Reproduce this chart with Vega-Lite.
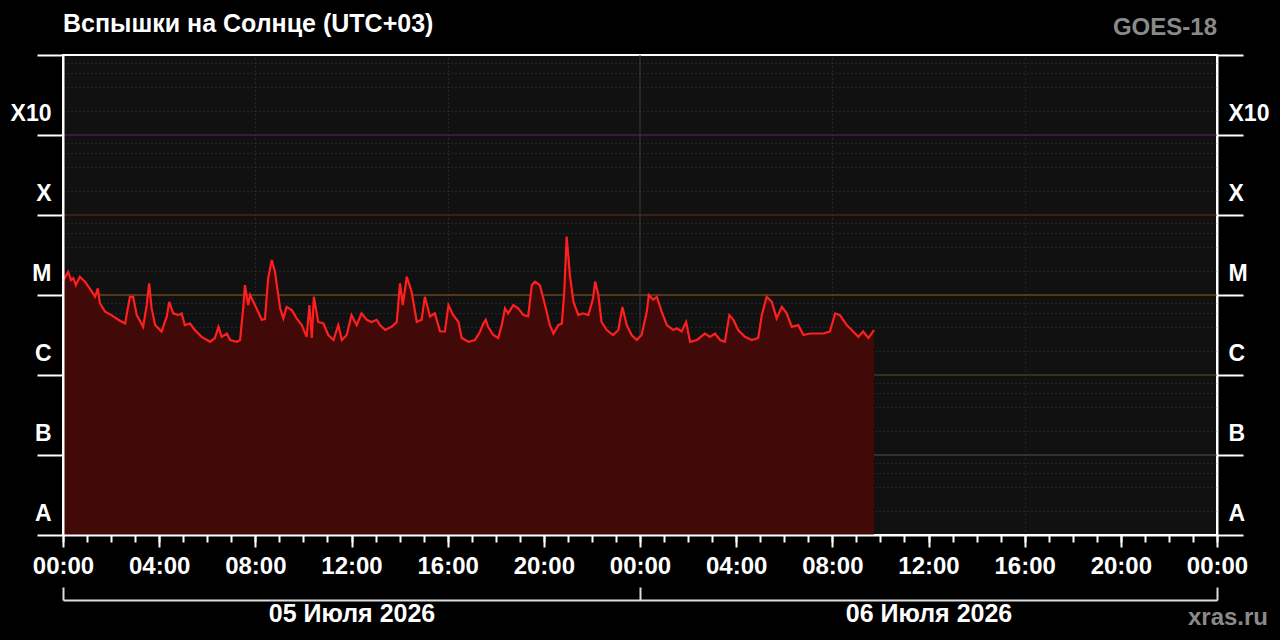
{
  "$schema": "https://vega.github.io/schema/vega-lite/v6.json",
  "autosize": "none",
  "width": 1154,
  "height": 480,
  "padding": {"left": 63, "top": 55, "right": 63, "bottom": 105},
  "background": "#000000",
  "title": {
    "text": "Вспышки на Солнце (UTC+03)",
    "anchor": "start",
    "frame": "group",
    "font": "Liberation Sans",
    "fontSize": 25,
    "fontWeight": "bold",
    "color": "#ffffff",
    "baseline": "alphabetic",
    "offset": -41
  },
  "config": {
    "view": {"fill": "#111111", "stroke": "#ffffff", "strokeWidth": 2},
    "font": "Liberation Sans"
  },
  "datasets": {
    "levels": [
      {"v": 1e-7, "cls": "B"},
      {"v": 1e-6, "cls": "C"},
      {"v": 1e-5, "cls": "M"},
      {"v": 1e-4, "cls": "X"},
      {"v": 1e-3, "cls": "X10"}
    ],
    "flux": [
      {"t": "2026-07-05T00:00", "v": 1.5e-5},
      {"t": "2026-07-05T00:13", "v": 1.95e-5},
      {"t": "2026-07-05T00:20", "v": 1.54e-5},
      {"t": "2026-07-05T00:26", "v": 1.62e-5},
      {"t": "2026-07-05T00:32", "v": 1.33e-5},
      {"t": "2026-07-05T00:42", "v": 1.69e-5},
      {"t": "2026-07-05T00:55", "v": 1.47e-5},
      {"t": "2026-07-05T01:12", "v": 1.1e-5},
      {"t": "2026-07-05T01:20", "v": 9.5e-6},
      {"t": "2026-07-05T01:27", "v": 1.21e-5},
      {"t": "2026-07-05T01:32", "v": 7.9e-6},
      {"t": "2026-07-05T01:45", "v": 6.2e-6},
      {"t": "2026-07-05T02:01", "v": 5.6e-6},
      {"t": "2026-07-05T02:18", "v": 4.9e-6},
      {"t": "2026-07-05T02:35", "v": 4.4e-6},
      {"t": "2026-07-05T02:47", "v": 9.5e-6},
      {"t": "2026-07-05T02:55", "v": 9.5e-6},
      {"t": "2026-07-05T03:04", "v": 5.6e-6},
      {"t": "2026-07-05T03:20", "v": 4.0e-6},
      {"t": "2026-07-05T03:29", "v": 7.5e-6},
      {"t": "2026-07-05T03:35", "v": 1.4e-5},
      {"t": "2026-07-05T03:41", "v": 6.9e-6},
      {"t": "2026-07-05T03:50", "v": 4.2e-6},
      {"t": "2026-07-05T04:06", "v": 3.5e-6},
      {"t": "2026-07-05T04:19", "v": 5.4e-6},
      {"t": "2026-07-05T04:25", "v": 8.2e-6},
      {"t": "2026-07-05T04:35", "v": 5.9e-6},
      {"t": "2026-07-05T04:48", "v": 5.6e-6},
      {"t": "2026-07-05T04:56", "v": 5.9e-6},
      {"t": "2026-07-05T05:04", "v": 4.2e-6},
      {"t": "2026-07-05T05:17", "v": 4.4e-6},
      {"t": "2026-07-05T05:29", "v": 3.65e-6},
      {"t": "2026-07-05T05:46", "v": 3.0e-6},
      {"t": "2026-07-05T06:07", "v": 2.6e-6},
      {"t": "2026-07-05T06:19", "v": 2.9e-6},
      {"t": "2026-07-05T06:28", "v": 4.0e-6},
      {"t": "2026-07-05T06:36", "v": 3.0e-6},
      {"t": "2026-07-05T06:49", "v": 3.3e-6},
      {"t": "2026-07-05T06:57", "v": 2.74e-6},
      {"t": "2026-07-05T07:14", "v": 2.6e-6},
      {"t": "2026-07-05T07:22", "v": 2.74e-6},
      {"t": "2026-07-05T07:30", "v": 7.1e-6},
      {"t": "2026-07-05T07:34", "v": 1.33e-5},
      {"t": "2026-07-05T07:42", "v": 7.5e-6},
      {"t": "2026-07-05T07:47", "v": 1.0e-5},
      {"t": "2026-07-05T07:59", "v": 7.5e-6},
      {"t": "2026-07-05T08:16", "v": 4.9e-6},
      {"t": "2026-07-05T08:24", "v": 5.0e-6},
      {"t": "2026-07-05T08:32", "v": 1.62e-5},
      {"t": "2026-07-05T08:41", "v": 2.74e-5},
      {"t": "2026-07-05T08:49", "v": 1.95e-5},
      {"t": "2026-07-05T09:02", "v": 6.8e-6},
      {"t": "2026-07-05T09:10", "v": 5.1e-6},
      {"t": "2026-07-05T09:18", "v": 7.1e-6},
      {"t": "2026-07-05T09:31", "v": 6.5e-6},
      {"t": "2026-07-05T09:43", "v": 5.1e-6},
      {"t": "2026-07-05T09:56", "v": 4.2e-6},
      {"t": "2026-07-05T10:08", "v": 3.0e-6},
      {"t": "2026-07-05T10:15", "v": 7.5e-6},
      {"t": "2026-07-05T10:21", "v": 2.9e-6},
      {"t": "2026-07-05T10:26", "v": 9.5e-6},
      {"t": "2026-07-05T10:37", "v": 4.6e-6},
      {"t": "2026-07-05T10:50", "v": 4.4e-6},
      {"t": "2026-07-05T11:02", "v": 3.16e-6},
      {"t": "2026-07-05T11:15", "v": 2.74e-6},
      {"t": "2026-07-05T11:27", "v": 4.2e-6},
      {"t": "2026-07-05T11:36", "v": 2.74e-6},
      {"t": "2026-07-05T11:48", "v": 3.16e-6},
      {"t": "2026-07-05T12:00", "v": 5.6e-6},
      {"t": "2026-07-05T12:13", "v": 4.2e-6},
      {"t": "2026-07-05T12:25", "v": 5.9e-6},
      {"t": "2026-07-05T12:38", "v": 4.9e-6},
      {"t": "2026-07-05T12:50", "v": 4.6e-6},
      {"t": "2026-07-05T13:03", "v": 4.9e-6},
      {"t": "2026-07-05T13:11", "v": 4.2e-6},
      {"t": "2026-07-05T13:24", "v": 3.65e-6},
      {"t": "2026-07-05T13:40", "v": 4.0e-6},
      {"t": "2026-07-05T13:53", "v": 4.6e-6},
      {"t": "2026-07-05T14:01", "v": 1.4e-5},
      {"t": "2026-07-05T14:08", "v": 7.5e-6},
      {"t": "2026-07-05T14:18", "v": 1.69e-5},
      {"t": "2026-07-05T14:30", "v": 1.1e-5},
      {"t": "2026-07-05T14:43", "v": 4.6e-6},
      {"t": "2026-07-05T14:55", "v": 4.9e-6},
      {"t": "2026-07-05T15:03", "v": 9.5e-6},
      {"t": "2026-07-05T15:16", "v": 5.4e-6},
      {"t": "2026-07-05T15:28", "v": 5.9e-6},
      {"t": "2026-07-05T15:41", "v": 3.5e-6},
      {"t": "2026-07-05T15:53", "v": 3.5e-6},
      {"t": "2026-07-05T16:02", "v": 7.5e-6},
      {"t": "2026-07-05T16:14", "v": 5.6e-6},
      {"t": "2026-07-05T16:27", "v": 4.6e-6},
      {"t": "2026-07-05T16:35", "v": 2.9e-6},
      {"t": "2026-07-05T16:52", "v": 2.6e-6},
      {"t": "2026-07-05T17:08", "v": 2.74e-6},
      {"t": "2026-07-05T17:21", "v": 3.5e-6},
      {"t": "2026-07-05T17:29", "v": 4.4e-6},
      {"t": "2026-07-05T17:35", "v": 4.9e-6},
      {"t": "2026-07-05T17:41", "v": 4.0e-6},
      {"t": "2026-07-05T17:54", "v": 3.16e-6},
      {"t": "2026-07-05T18:06", "v": 2.9e-6},
      {"t": "2026-07-05T18:15", "v": 4.2e-6},
      {"t": "2026-07-05T18:23", "v": 6.8e-6},
      {"t": "2026-07-05T18:31", "v": 5.9e-6},
      {"t": "2026-07-05T18:44", "v": 7.5e-6},
      {"t": "2026-07-05T18:56", "v": 6.8e-6},
      {"t": "2026-07-05T19:09", "v": 5.6e-6},
      {"t": "2026-07-05T19:21", "v": 5.4e-6},
      {"t": "2026-07-05T19:30", "v": 1.33e-5},
      {"t": "2026-07-05T19:38", "v": 1.47e-5},
      {"t": "2026-07-05T19:50", "v": 1.33e-5},
      {"t": "2026-07-05T20:03", "v": 7.5e-6},
      {"t": "2026-07-05T20:15", "v": 4.2e-6},
      {"t": "2026-07-05T20:24", "v": 3.3e-6},
      {"t": "2026-07-05T20:36", "v": 4.2e-6},
      {"t": "2026-07-05T20:45", "v": 4.4e-6},
      {"t": "2026-07-05T20:51", "v": 1.1e-5},
      {"t": "2026-07-05T20:57", "v": 5.36e-5},
      {"t": "2026-07-05T21:05", "v": 1.78e-5},
      {"t": "2026-07-05T21:14", "v": 8.2e-6},
      {"t": "2026-07-05T21:26", "v": 5.6e-6},
      {"t": "2026-07-05T21:38", "v": 5.9e-6},
      {"t": "2026-07-05T21:51", "v": 5.6e-6},
      {"t": "2026-07-05T22:03", "v": 9.1e-6},
      {"t": "2026-07-05T22:08", "v": 1.47e-5},
      {"t": "2026-07-05T22:16", "v": 1.0e-5},
      {"t": "2026-07-05T22:24", "v": 4.6e-6},
      {"t": "2026-07-05T22:37", "v": 3.65e-6},
      {"t": "2026-07-05T22:53", "v": 3.16e-6},
      {"t": "2026-07-05T23:06", "v": 3.65e-6},
      {"t": "2026-07-05T23:16", "v": 7.1e-6},
      {"t": "2026-07-05T23:27", "v": 4.2e-6},
      {"t": "2026-07-05T23:39", "v": 3.16e-6},
      {"t": "2026-07-05T23:52", "v": 2.74e-6},
      {"t": "2026-07-06T00:04", "v": 3.16e-6},
      {"t": "2026-07-06T00:17", "v": 6.2e-6},
      {"t": "2026-07-06T00:22", "v": 1.0e-5},
      {"t": "2026-07-06T00:33", "v": 8.7e-6},
      {"t": "2026-07-06T00:42", "v": 9.5e-6},
      {"t": "2026-07-06T00:54", "v": 6.2e-6},
      {"t": "2026-07-06T01:07", "v": 4.2e-6},
      {"t": "2026-07-06T01:23", "v": 3.65e-6},
      {"t": "2026-07-06T01:32", "v": 3.84e-6},
      {"t": "2026-07-06T01:44", "v": 3.5e-6},
      {"t": "2026-07-06T01:55", "v": 4.6e-6},
      {"t": "2026-07-06T02:05", "v": 2.6e-6},
      {"t": "2026-07-06T02:22", "v": 2.74e-6},
      {"t": "2026-07-06T02:42", "v": 3.3e-6},
      {"t": "2026-07-06T02:55", "v": 3.0e-6},
      {"t": "2026-07-06T03:07", "v": 3.3e-6},
      {"t": "2026-07-06T03:20", "v": 2.74e-6},
      {"t": "2026-07-06T03:32", "v": 2.6e-6},
      {"t": "2026-07-06T03:43", "v": 5.6e-6},
      {"t": "2026-07-06T03:53", "v": 4.9e-6},
      {"t": "2026-07-06T04:05", "v": 3.65e-6},
      {"t": "2026-07-06T04:22", "v": 3.0e-6},
      {"t": "2026-07-06T04:39", "v": 2.74e-6},
      {"t": "2026-07-06T04:55", "v": 2.9e-6},
      {"t": "2026-07-06T05:04", "v": 5.6e-6},
      {"t": "2026-07-06T05:16", "v": 9.5e-6},
      {"t": "2026-07-06T05:29", "v": 8.2e-6},
      {"t": "2026-07-06T05:41", "v": 5.1e-6},
      {"t": "2026-07-06T05:54", "v": 7.1e-6},
      {"t": "2026-07-06T06:06", "v": 5.9e-6},
      {"t": "2026-07-06T06:19", "v": 4.0e-6},
      {"t": "2026-07-06T06:35", "v": 4.2e-6},
      {"t": "2026-07-06T06:48", "v": 3.16e-6},
      {"t": "2026-07-06T07:04", "v": 3.3e-6},
      {"t": "2026-07-06T07:21", "v": 3.3e-6},
      {"t": "2026-07-06T07:38", "v": 3.3e-6},
      {"t": "2026-07-06T07:54", "v": 3.5e-6},
      {"t": "2026-07-06T08:07", "v": 5.9e-6},
      {"t": "2026-07-06T08:19", "v": 5.6e-6},
      {"t": "2026-07-06T08:36", "v": 4.2e-6},
      {"t": "2026-07-06T08:52", "v": 3.5e-6},
      {"t": "2026-07-06T09:05", "v": 3.0e-6},
      {"t": "2026-07-06T09:17", "v": 3.5e-6},
      {"t": "2026-07-06T09:30", "v": 2.9e-6},
      {"t": "2026-07-06T09:44", "v": 3.65e-6}
    ]
  },
  "layer": [
    {
      "data": {"name": "levels"},
      "mark": {"type": "rule", "strokeWidth": 1.5},
      "encoding": {
        "y": {
          "field": "v",
          "type": "quantitative",
          "scale": {"type": "log", "domain": [1e-8, 1e-2]},
          "axis": {
            "orient": "left",
            "values": [2e-8, 4e-8, 6e-8, 8e-8, 2e-7, 4e-7, 6e-7, 8e-7, 2e-6, 4e-6, 6e-6, 8e-6, 2e-5, 4e-5, 6e-5, 8e-5, 2e-4, 4e-4, 6e-4, 8e-4, 2e-3, 4e-3, 6e-3, 8e-3],
            "grid": true,
            "gridDash": [1, 3],
            "gridColor": "#3a3a3a",
            "gridWidth": 1,
            "ticks": false,
            "labels": false,
            "domain": false,
            "title": null,
            "zindex": 0
          }
        },
        "color": {
          "field": "cls",
          "type": "nominal",
          "scale": {"domain": ["B", "C", "M", "X", "X10"], "range": ["#3c3c3c", "#3e3e18", "#6a4418", "#541e1e", "#4e1a4e"]},
          "legend": null
        }
      }
    },
    {
      "data": {"values": [{}]},
      "mark": {"type": "rule", "color": "#3c3c3c", "strokeWidth": 1},
      "encoding": {
        "x": {
          "datum": {"year": 2026, "month": 7, "date": 6},
          "type": "temporal",
          "scale": {"domain": [{"year": 2026, "month": 7, "date": 5}, {"year": 2026, "month": 7, "date": 7}], "nice": false},
          "axis": {
            "orient": "bottom",
            "values": [
              {"year": 2026, "month": 7, "date": 5, "hours": 8},
              {"year": 2026, "month": 7, "date": 5, "hours": 16},
              {"year": 2026, "month": 7, "date": 6, "hours": 8},
              {"year": 2026, "month": 7, "date": 6, "hours": 16}
            ],
            "grid": true,
            "gridDash": [1, 3],
            "gridColor": "#3a3a3a",
            "gridWidth": 1,
            "ticks": false,
            "labels": false,
            "domain": false,
            "title": null,
            "zindex": 0
          }
        }
      }
    },
    {
      "data": {"name": "flux"},
      "mark": {"type": "area", "color": "#420909", "opacity": 1},
      "encoding": {
        "x": {
          "field": "t",
          "type": "temporal",
          "scale": {"domain": [{"year": 2026, "month": 7, "date": 5}, {"year": 2026, "month": 7, "date": 7}], "nice": false},
          "axis": {
            "orient": "bottom",
            "values": [
              {"year": 2026, "month": 7, "date": 5, "hours": 0},
              {"year": 2026, "month": 7, "date": 5, "hours": 4},
              {"year": 2026, "month": 7, "date": 5, "hours": 8},
              {"year": 2026, "month": 7, "date": 5, "hours": 12},
              {"year": 2026, "month": 7, "date": 5, "hours": 16},
              {"year": 2026, "month": 7, "date": 5, "hours": 20},
              {"year": 2026, "month": 7, "date": 6, "hours": 0},
              {"year": 2026, "month": 7, "date": 6, "hours": 4},
              {"year": 2026, "month": 7, "date": 6, "hours": 8},
              {"year": 2026, "month": 7, "date": 6, "hours": 12},
              {"year": 2026, "month": 7, "date": 6, "hours": 16},
              {"year": 2026, "month": 7, "date": 6, "hours": 20},
              {"year": 2026, "month": 7, "date": 7, "hours": 0}
            ],
            "format": "%H:%M",
            "labelFont": "Liberation Sans",
            "labelFontSize": 24,
            "labelFontWeight": "bold",
            "labelColor": "#ffffff",
            "labelPadding": 26,
            "labelBaseline": "alphabetic",
            "labelFlush": false,
            "labelOverlap": false,
            "tickSize": 12,
            "tickColor": "#ffffff",
            "tickWidth": 2,
            "domain": true,
            "domainColor": "#ffffff",
            "domainWidth": 2,
            "grid": false,
            "title": null,
            "zindex": 1
          }
        },
        "y": {
          "field": "v",
          "type": "quantitative",
          "scale": {"type": "log", "domain": [1e-8, 1e-2]},
          "axis": {
            "orient": "left",
            "values": [1e-8, 1e-7, 1e-6, 1e-5, 1e-4, 1e-3, 1e-2],
            "labelExpr": "datum.value < 5e-8 ? 'A' : datum.value < 5e-7 ? 'B' : datum.value < 5e-6 ? 'C' : datum.value < 5e-5 ? 'M' : datum.value < 5e-4 ? 'X' : datum.value < 5e-3 ? 'X10' : ''",
            "labelFont": "Liberation Sans",
            "labelFontSize": 23,
            "labelFontWeight": "bold",
            "labelColor": "#ffffff",
            "labelAlign": "right",
            "labelBaseline": "alphabetic",
            "labelPadding": -14,
            "labelOffset": -15,
            "labelFlush": false,
            "labelOverlap": false,
            "tickSize": 26,
            "tickColor": "#ffffff",
            "tickWidth": 2,
            "domain": true,
            "domainColor": "#ffffff",
            "domainWidth": 2,
            "grid": false,
            "title": null,
            "zindex": 1
          }
        },
        "y2": {"datum": 1e-8}
      }
    },
    {
      "data": {"name": "flux"},
      "mark": {"type": "line", "color": "#ff1f1f", "strokeWidth": 2.2},
      "encoding": {
        "x": {
          "field": "t",
          "type": "temporal",
          "scale": {"domain": [{"year": 2026, "month": 7, "date": 5}, {"year": 2026, "month": 7, "date": 7}], "nice": false},
          "axis": {
            "orient": "bottom",
            "tickCount": 48,
            "tickSize": 7,
            "tickColor": "#ffffff",
            "tickWidth": 2,
            "labels": false,
            "domain": false,
            "grid": false,
            "title": null,
            "zindex": 1
          }
        },
        "y": {
          "field": "v",
          "type": "quantitative",
          "scale": {"type": "log", "domain": [1e-8, 1e-2]},
          "axis": {
            "orient": "right",
            "values": [1e-8, 1e-7, 1e-6, 1e-5, 1e-4, 1e-3, 1e-2],
            "labelExpr": "datum.value < 5e-8 ? 'A' : datum.value < 5e-7 ? 'B' : datum.value < 5e-6 ? 'C' : datum.value < 5e-5 ? 'M' : datum.value < 5e-4 ? 'X' : datum.value < 5e-3 ? 'X10' : ''",
            "labelFont": "Liberation Sans",
            "labelFontSize": 23,
            "labelFontWeight": "bold",
            "labelColor": "#ffffff",
            "labelAlign": "left",
            "labelBaseline": "alphabetic",
            "labelPadding": -15,
            "labelOffset": -15,
            "labelFlush": false,
            "labelOverlap": false,
            "tickSize": 26,
            "tickColor": "#ffffff",
            "tickWidth": 2,
            "domain": true,
            "domainColor": "#ffffff",
            "domainWidth": 2,
            "grid": false,
            "title": null,
            "zindex": 1
          }
        }
      }
    },
    {
      "data": {"values": [{}]},
      "mark": {"type": "text", "text": "GOES-18", "align": "right", "baseline": "alphabetic", "dy": -20, "font": "Liberation Sans", "fontSize": 24, "fontWeight": "bold", "color": "#8a8a8a"},
      "encoding": {
        "x": {
          "datum": {"year": 2026, "month": 7, "date": 7},
          "type": "temporal",
          "scale": {"domain": [{"year": 2026, "month": 7, "date": 5}, {"year": 2026, "month": 7, "date": 7}], "nice": false},
          "axis": {
            "orient": "bottom",
            "offset": 65,
            "values": [{"year": 2026, "month": 7, "date": 5}, {"year": 2026, "month": 7, "date": 6}, {"year": 2026, "month": 7, "date": 7}],
            "labelExpr": "date(datum.value) == 5 ? '05 Июля 2026' : date(datum.value) == 6 ? '06 Июля 2026' : ''",
            "labelOffset": 288.5,
            "labelFont": "Liberation Sans",
            "labelFontSize": 25,
            "labelFontWeight": "bold",
            "labelColor": "#ffffff",
            "labelBaseline": "alphabetic",
            "labelPadding": 34,
            "labelFlush": false,
            "labelOverlap": false,
            "labelBound": false,
            "tickSize": -13,
            "tickColor": "#dddddd",
            "tickWidth": 2,
            "domain": true,
            "domainColor": "#dddddd",
            "domainWidth": 2,
            "grid": false,
            "title": null
          }
        },
        "y": {"datum": 1e-2, "type": "quantitative", "scale": {"type": "log", "domain": [1e-8, 1e-2]}, "axis": null}
      }
    },
    {
      "data": {"values": [{}]},
      "mark": {"type": "text", "text": "xras.ru", "align": "right", "baseline": "alphabetic", "dx": 51, "dy": 90, "font": "Liberation Sans", "fontSize": 24, "fontWeight": "bold", "color": "#8a8a8a"},
      "encoding": {
        "x": {
          "datum": {"year": 2026, "month": 7, "date": 7},
          "type": "temporal",
          "scale": {"domain": [{"year": 2026, "month": 7, "date": 5}, {"year": 2026, "month": 7, "date": 7}], "nice": false},
          "axis": null
        },
        "y": {"datum": 1e-8, "type": "quantitative", "scale": {"type": "log", "domain": [1e-8, 1e-2]}, "axis": null}
      }
    }
  ],
  "resolve": {"axis": {"x": "independent", "y": "independent"}}
}
